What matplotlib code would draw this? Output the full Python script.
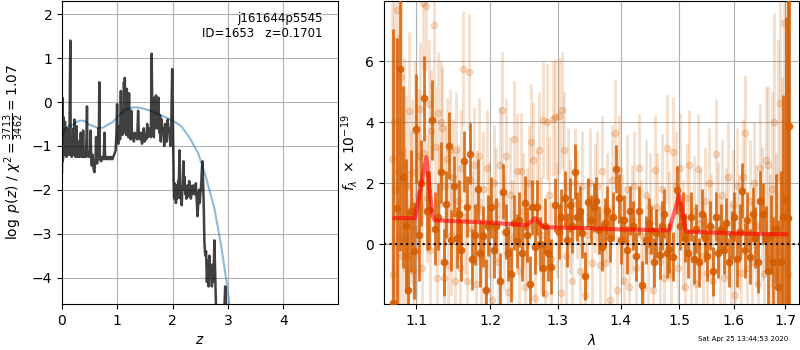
import matplotlib
matplotlib.use('Agg')
import matplotlib.pyplot as plt
from matplotlib.ticker import FixedLocator, NullLocator, NullFormatter

# ---- p(z) panel data ----
z_pz = [0.000, 0.006, 0.014, 0.022, 0.030, 0.038, 0.046, 0.054, 0.062, 0.072,
        0.082, 0.092, 0.102, 0.112, 0.122, 0.132, 0.142, 0.150, 0.158, 0.168,
        0.176, 0.186, 0.196, 0.206, 0.214, 0.224, 0.234, 0.244, 0.254, 0.264,
        0.274, 0.284, 0.296, 0.306, 0.318, 0.330, 0.340, 0.350, 0.360, 0.372,
        0.382, 0.392, 0.402, 0.412, 0.422, 0.432, 0.442, 0.452, 0.460, 0.470,
        0.482, 0.494, 0.506, 0.518, 0.528, 0.540, 0.552, 0.562, 0.574, 0.586,
        0.596, 0.606, 0.616, 0.626, 0.636, 0.646, 0.656, 0.664, 0.674, 0.684,
        0.694, 0.706, 0.720, 0.732, 0.744, 0.756, 0.768, 0.780, 0.792, 0.806,
        0.820, 0.834, 0.848, 0.860, 0.874, 0.888, 0.900, 0.914, 0.928, 0.942,
        0.956, 0.970, 0.984, 0.996, 1.006, 1.020, 1.035, 1.050, 1.064, 1.076,
        1.090, 1.100, 1.110, 1.120, 1.128, 1.136, 1.146, 1.160, 1.172, 1.184,
        1.200, 1.212, 1.224, 1.240, 1.254, 1.266, 1.284, 1.300, 1.314, 1.330,
        1.346, 1.360, 1.376, 1.390, 1.410, 1.428, 1.446, 1.462, 1.478, 1.494,
        1.510, 1.526, 1.540, 1.556, 1.572, 1.590, 1.606, 1.622, 1.634, 1.646,
        1.660, 1.674, 1.686, 1.700, 1.714, 1.728, 1.744, 1.758, 1.772, 1.786,
        1.800, 1.816, 1.832, 1.848, 1.864, 1.880, 1.896, 1.912, 1.928, 1.944,
        1.960, 1.976, 1.992, 2.004, 2.012, 2.020, 2.028, 2.036,
        2.044, 2.052, 2.060, 2.068, 2.076, 2.084, 2.092, 2.100, 2.110, 2.125,
        2.135, 2.145, 2.155, 2.165, 2.175, 2.185, 2.195, 2.205, 2.215, 2.230,
        2.240, 2.250, 2.260, 2.270, 2.280, 2.290, 2.300, 2.310, 2.320, 2.330,
        2.340, 2.350, 2.360, 2.370, 2.380, 2.390, 2.400, 2.410, 2.420, 2.430,
        2.440, 2.450, 2.460, 2.470, 2.480, 2.490, 2.500, 2.510, 2.520, 2.530,
        2.540, 2.560, 2.575, 2.590, 2.605, 2.620, 2.635, 2.650, 2.665, 2.680,
        2.695, 2.710, 2.725, 2.740, 2.755, 2.770, 2.785, 2.800, 2.850, 2.900,
        2.935, 2.950, 2.960, 2.975, 3.000]
logpz = [-1.60, 0.10, -1.35, -1.25, -0.35, -1.20, -1.15, -0.45, -1.20, -1.15,
         -1.25, -0.60, -1.20, -1.20, -1.10, -1.20, 0.20, 1.40, -1.15, -0.85,
         -1.25, -1.20, -1.20, -0.60, -1.20, -0.40, -1.20, -1.25, -1.15, -0.55,
         -1.20, -1.25, -0.90, -1.20, -1.25, -1.20, -0.70, -1.20, -1.25, -1.20,
         -0.65, -1.25, -1.20, -1.25, -1.20, -1.25, -0.85, -0.10, -1.20, -1.15,
         -1.25, -1.20, -1.20, -0.65, -1.30, -1.45, -1.20, -1.35, -1.55, -1.60,
         -1.40, -1.30, -0.80, -1.35, -1.40, -1.30, -0.60, -1.25, 0.45, -1.30,
         -1.30, -1.35, -1.25, -1.30, -1.30, -1.20, -0.70, -1.30, -1.25, -1.30,
         -1.25, -1.30, -1.30, -1.25, -1.30, -1.25, -1.30, -1.30, -1.25, -1.20,
         -1.15, -1.10, -0.70, -0.05, -0.90, -0.95, -0.55, -0.85, 0.25, -0.65,
         -0.75, -0.20, -0.70, 0.45, -0.30, 0.55, -0.60, -0.75, 0.30, -0.70,
         -0.80, 0.20, -0.75, -0.85, -0.20, -0.80, -0.75, -0.90, -0.70, -0.80,
         -0.75, -0.85, -0.20, -0.80, -0.85, -0.70, -0.95, -0.85, -0.60, -0.90,
         -0.80, -0.85, -0.50, -0.80, -0.70, -0.60, -0.80, 1.10, -0.50, 0.00,
         -0.80, 0.10, -0.60, 0.15, -0.40, -0.60, 0.10, -0.70, -0.30, -0.90,
         -0.40, -0.70, -0.60, -1.00, -0.50, -0.70, -0.90, -0.40, -0.70, -0.60,
         -1.00, -0.50, 0.75, -0.40, -1.10, -1.90, -2.20, -1.85,
         -2.10, -1.90, -2.30, -2.05, -1.90, -2.20, -2.10, -1.80, -2.00, -1.10,
         -1.80, -2.20, -2.00, -2.35, -2.00, -1.90, -1.35, -2.00, -1.70, -2.10,
         -1.95, -2.20, -2.00, -1.90, -2.15, -2.05, -1.80, -2.10, -1.90, -2.20,
         -1.95, -2.00, -2.10, -1.90, -2.05, -2.00, -2.10, -2.00, -1.85, -2.10,
         -2.30, -2.60, -2.40, -2.10, -2.00, -2.30, -2.10, -2.00, -1.80, -1.50,
         -1.35, -2.20, -3.20, -3.50, -3.40, -4.10, -3.60, -4.20, -3.50, -3.90,
         -3.80, -4.20, -3.70, -4.10, -3.15, -3.90, -4.70, -5.50, -6.50, -6.00,
         -4.70, -4.20, -4.35, -5.20, -6.50]

z_prior = [0.00, 0.04, 0.08, 0.12, 0.17, 0.22, 0.28, 0.34, 0.40, 0.45,
           0.50, 0.57, 0.66, 0.75, 0.82, 0.90, 0.98, 1.05, 1.12, 1.20,
           1.30, 1.40, 1.50, 1.60, 1.70, 1.80, 1.90, 1.97, 2.10, 2.16,
           2.30, 2.46, 2.60, 2.76, 2.88, 2.97, 3.02, 3.06]
logprior = [-0.85, -0.65, -0.58, -0.55, -0.53, -0.50, -0.44, -0.42, -0.43, -0.47,
            -0.52, -0.55, -0.60, -0.58, -0.52, -0.47, -0.38, -0.28, -0.20, -0.15,
            -0.12, -0.13, -0.16, -0.20, -0.26, -0.31, -0.36, -0.41, -0.50, -0.56,
            -0.80, -1.16, -1.70, -2.45, -3.29, -4.05, -4.55, -5.00]

# ---- spectrum panel data ----
# binned spectrum (dark points)
wave_bin = [1.0705, 1.0745, 1.0786, 1.0825, 1.0860, 1.0895, 1.0930, 1.0965, 1.0995, 1.1030,
            1.1065, 1.1100, 1.1138, 1.1170, 1.1210, 1.1245, 1.1280, 1.1325, 1.1360, 1.1395,
            1.1430, 1.1465, 1.1500, 1.1535, 1.1570, 1.1600, 1.1633, 1.1670, 1.1718, 1.1750,
            1.1790, 1.1830, 1.1860, 1.1900, 1.1940, 1.1975, 1.2010, 1.2050, 1.2090, 1.2140,
            1.2187, 1.2220, 1.2260, 1.2300, 1.2340, 1.2380, 1.2420, 1.2460, 1.2500, 1.2540,
            1.2575, 1.2610, 1.2650, 1.2690, 1.2730, 1.2770, 1.2810, 1.2850, 1.2890, 1.2958,
            1.3010, 1.3050, 1.3110, 1.3140, 1.3180, 1.3220, 1.3264, 1.3300, 1.3340, 1.3380,
            1.3420, 1.3470, 1.3520, 1.3560, 1.3600, 1.3650, 1.3700, 1.3740, 1.3780, 1.3830,
            1.3870, 1.3930, 1.3970, 1.4005, 1.4050, 1.4100, 1.4150, 1.4200, 1.4250, 1.4310,
            1.4356, 1.4424, 1.4470, 1.4510, 1.4560, 1.4596, 1.4665, 1.4700, 1.4740, 1.4790,
            1.4828, 1.4898, 1.4960, 1.5010, 1.5060, 1.5110, 1.5160, 1.5210, 1.5260, 1.5310,
            1.5360, 1.5410, 1.5460, 1.5510, 1.5560, 1.5610, 1.5660, 1.5710, 1.5760, 1.5810,
            1.5860, 1.5910, 1.5960, 1.6010, 1.6060, 1.6110, 1.6160, 1.6210, 1.6260, 1.6310,
            1.6360, 1.6410, 1.6460, 1.6510, 1.6560, 1.6610, 1.6660, 1.6710, 1.6760, 1.6810,
            1.6860, 1.6910, 1.6960, 1.7010, 1.7060, 1.7085]
flux_bin = [-1.95, 1.18, 5.76, 2.20, 0.60, -1.50, 1.09, -0.22, 3.79, 0.30,
            2.00, 4.78, 1.09, 1.11, 4.07, 0.50, 0.90, 2.35, -0.60, 1.30,
            3.23, 0.13, 1.90, 0.20, 1.00, -0.20, 2.72, 1.22, 2.97, -0.50,
            0.30, 1.80, -0.30, 0.25, -1.50, 0.60, 1.20, -0.20, 0.60, -1.20,
            1.72, 0.40, -0.30, -1.00, 0.70, 0.10, 0.80, -0.30, 1.35, 0.30,
            -1.30, 1.20, -0.10, 1.20, 0.00, -0.80, 0.60, -0.30, -0.74, 1.28,
            0.40, 0.90, 1.50, 0.13, 1.28, 0.60, 2.37, 0.90, 1.10, 0.35,
            -1.05, 1.37, 0.80, 1.20, 1.40, 0.46, -0.10, 0.70, 1.10, 0.20,
            0.90, 2.46, 1.50, 0.13, 0.80, -0.20, 1.10, 0.60, -0.40, 1.10,
            -1.35, 0.13, 0.70, 0.46, -0.60, 0.35, -0.36, 0.60, 1.00, -0.30,
            -0.15, -0.42, 1.77, 0.60, 0.90, 0.20, -0.30, 0.90, -0.50, 0.50,
            -0.60, 1.00, 0.20, -0.40, 0.60, -0.90, 0.90, -0.30, 0.50, -0.20,
            0.70, -0.60, 0.30, 0.90, -0.50, 0.40, 1.75, -0.20, 0.80, -0.42,
            0.97, 0.20, -0.60, 1.40, 1.00, 0.15, -0.90, 0.30, -0.60, 0.50,
            -1.40, -0.60, 0.90, 1.45, 0.85, 3.87]
err_bin = [9.0, 5.6, 6.0, 3.0, 2.2, 2.6, 2.0, 1.6, 1.8, 1.5,
           1.4, 1.4, 1.3, 1.3, 1.3, 1.2, 1.1, 1.0, 1.1, 1.1,
           1.1, 1.0, 1.0, 1.0, 1.1, 1.0, 1.0, 1.0, 1.0, 1.0,
           1.0, 1.0, 1.1, 1.0, 1.0, 1.0, 1.0, 0.9, 0.9, 0.9,
           0.9, 0.9, 0.9, 0.9, 0.9, 0.9, 0.9, 0.9, 0.9, 0.9,
           0.9, 0.9, 0.9, 0.9, 0.9, 0.9, 0.9, 0.9, 0.9, 0.9,
           0.9, 0.9, 0.9, 0.9, 0.9, 0.9, 0.9, 0.8, 0.8, 0.8,
           0.8, 0.8, 0.8, 0.8, 0.8, 0.8, 0.8, 0.8, 0.8, 0.8,
           0.8, 0.8, 0.8, 0.8, 0.8, 0.8, 0.8, 0.8, 0.8, 0.8,
           0.8, 0.8, 0.8, 0.8, 0.8, 0.8, 0.8, 0.8, 0.8, 0.8,
           0.8, 0.8, 0.8, 0.8, 0.8, 0.8, 0.8, 0.8, 0.8, 0.8,
           0.8, 0.8, 0.8, 0.8, 0.8, 0.8, 0.8, 0.8, 0.8, 0.8,
           0.8, 0.8, 0.8, 0.8, 0.9, 0.9, 0.9, 0.9, 0.9, 0.9,
           0.9, 1.0, 1.0, 1.0, 1.0, 1.1, 1.2, 1.3, 1.5, 1.8,
           2.2, 3.0, 4.0, 6.0, 8.0, 12.0]

# unbinned spectrum (light points)
wave_raw = [1.0685, 1.0700, 1.0715, 1.0730, 1.0750, 1.0765, 1.0780, 1.0800, 1.0815, 1.0835,
            1.0850, 1.0870, 1.0890, 1.0910, 1.0925, 1.0945, 1.0960, 1.0980, 1.1000, 1.1015,
            1.1035, 1.1050, 1.1070, 1.1085, 1.1100, 1.1120, 1.1140, 1.1160, 1.1175, 1.1195,
            1.1230, 1.1250, 1.1265, 1.1285, 1.1300, 1.1320, 1.1340, 1.1360, 1.1380, 1.1400,
            1.1420, 1.1440, 1.1460, 1.1485, 1.1510, 1.1530, 1.1555, 1.1580, 1.1600, 1.1625,
            1.1650, 1.1675, 1.1700, 1.1720, 1.1745, 1.1770, 1.1795, 1.1820, 1.1850, 1.1875,
            1.1900, 1.1930, 1.1960, 1.1990, 1.2020, 1.2050, 1.2080, 1.2110, 1.2140, 1.2170,
            1.2200, 1.2230, 1.2260, 1.2290, 1.2320, 1.2350, 1.2380, 1.2410, 1.2440, 1.2470,
            1.2500, 1.2530, 1.2560, 1.2590, 1.2620, 1.2650, 1.2680, 1.2710, 1.2740, 1.2770,
            1.2800, 1.2830, 1.2860, 1.2890, 1.2920, 1.2950, 1.2980, 1.3010, 1.3040, 1.3070,
            1.3100, 1.3130, 1.3160, 1.3190, 1.3220, 1.3260, 1.3300, 1.3340, 1.3380, 1.3420,
            1.3460, 1.3500, 1.3540, 1.3580, 1.3620, 1.3660, 1.3700, 1.3740, 1.3780, 1.3820,
            1.3860, 1.3900, 1.3940, 1.3980, 1.4020, 1.4060, 1.4100, 1.4140, 1.4180, 1.4220,
            1.4260, 1.4300, 1.4340, 1.4380, 1.4420, 1.4460, 1.4500, 1.4540, 1.4580, 1.4620,
            1.4660, 1.4700, 1.4740, 1.4780, 1.4820, 1.4860, 1.4900, 1.4940, 1.4980, 1.5020,
            1.5060, 1.5100, 1.5140, 1.5180, 1.5220, 1.5260, 1.5300, 1.5340, 1.5380, 1.5420,
            1.5460, 1.5500, 1.5540, 1.5580, 1.5620, 1.5660, 1.5700, 1.5740, 1.5780, 1.5820,
            1.5860, 1.5900, 1.5940, 1.5980, 1.6020, 1.6060, 1.6100, 1.6140, 1.6180, 1.6220,
            1.6260, 1.6300, 1.6340, 1.6380, 1.6420, 1.6460, 1.6500, 1.6540, 1.6580, 1.6620,
            1.6660, 1.6700, 1.6740, 1.6780, 1.6820, 1.6860, 1.6900, 1.6940, 1.6980, 1.7020,
            1.7060]
flux_raw = [2.8, -1.0, 4.0, 1.8, 7.7, 2.4, 0.2, 5.5, -0.4, 2.6,
            0.2, 1.9, -0.4, 4.36, 1.2, 2.37, -0.9, 3.7, 0.5, 1.6,
            2.9, 4.45, -0.8, 7.9, 3.0, 7.8, 1.5, 4.6, -0.2, 3.7,
            7.2, 3.2, -1.1, 4.3, 1.3, 4.0, 3.8, -1.1, 1.9, 2.8,
            -0.7, 3.1, 0.3, 2.2, -1.2, 3.1, 1.4, -0.8, 2.5, 5.76,
            0.9, -1.2, 5.65, 2.1, 0.5, 2.6, -1.3, 1.2, 2.9, -0.4,
            1.8, -1.5, 2.5, 0.8, -1.84, 2.0, 1.3, -0.6, 2.6, 4.39,
            0.4, 2.9, -1.56, 1.6, 0.2, 3.46, 2.4, -0.9, 2.4, 1.1,
            -1.4, 0.6, 2.0, 3.35, 2.75, -1.78, 1.2, 3.1, 0.3, 4.07,
            -1.65, 4.0, 1.6, -0.5, 4.12, 4.17, 0.8, 4.2, -1.62, 4.39,
            3.08, -0.4, 1.9, 0.9, -1.2, 2.0, 1.3, -0.9, 1.9, -1.67,
            0.3, 2.0, -0.63, 1.5, 1.9, -0.7, 2.4, -0.63, 1.2, -1.84,
            2.1, 3.63, -1.5, 2.43, 0.5, -1.2, 1.8, -1.4, 0.8, 1.9,
            -0.8, 2.48, 0.3, -1.45, 1.6, -0.2, 1.2, -1.5, 2.43, 1.2,
            -0.6, 1.8, -1.13, 3.14, 0.6, -1.0, 3.03, 1.9, -0.8, 2.5,
            0.3, -1.4, 1.5, 2.6, -0.5, 1.1, -1.3, 2.46, 0.7, -0.4,
            1.4, -0.96, 2.0, 0.5, -1.2, 2.97, 0.9, -0.2, 1.6, -1.1,
            0.7, 2.2, -0.5, 1.3, -1.67, 1.9, 0.4, -0.96, 2.2, 3.66,
            -0.8, 1.4, -0.6, 2.0, 0.6, -1.3, 2.5, 1.0, -1.0, 2.75,
            2.6, -0.5, 1.8, 4.0, -1.0, 2.2, 4.63, -0.5, 7.25, 1.5,
            -1.0]
err_raw = [6.0, 5.0, 6.0, 5.0, 6.0, 4.5, 4.0, 4.0, 3.5, 3.5,
           3.0, 3.0, 2.8, 2.6, 2.5, 2.4, 2.4, 2.3, 2.3, 2.2,
           2.2, 2.2, 2.2, 2.2, 2.1, 2.1, 2.1, 2.1, 2.0, 2.0,
           2.0, 2.0, 2.0, 2.0, 2.0, 2.0, 2.0, 2.0, 2.0, 2.0,
           2.0, 2.0, 2.0, 1.9, 1.9, 1.9, 1.9, 1.9, 1.9, 1.9,
           1.9, 1.9, 1.9, 1.9, 1.9, 1.9, 1.9, 1.9, 1.9, 1.9,
           1.9, 1.9, 1.9, 1.9, 1.9, 1.9, 1.9, 1.9, 1.9, 1.9,
           1.9, 1.9, 1.9, 1.9, 1.9, 1.9, 1.9, 1.9, 1.9, 1.9,
           1.9, 1.9, 1.9, 1.9, 1.9, 1.9, 1.9, 1.9, 1.9, 1.9,
           1.9, 1.9, 1.9, 1.9, 1.9, 1.9, 1.9, 1.9, 1.9, 1.9,
           1.9, 1.9, 1.9, 1.9, 1.9, 1.8, 1.8, 1.8, 1.8, 1.8,
           1.8, 1.8, 1.8, 1.8, 1.8, 1.8, 1.8, 1.8, 1.8, 1.8,
           1.8, 1.8, 1.8, 1.8, 1.8, 1.8, 1.8, 1.8, 1.8, 1.8,
           1.8, 1.8, 1.8, 1.8, 1.8, 1.8, 1.8, 1.8, 1.8, 1.8,
           1.8, 1.8, 1.8, 1.8, 1.8, 1.8, 1.8, 1.8, 1.8, 1.8,
           1.8, 1.8, 1.8, 1.8, 1.8, 1.8, 1.8, 1.8, 1.8, 1.8,
           1.8, 1.8, 1.8, 1.8, 1.8, 1.8, 1.8, 1.8, 1.8, 1.8,
           1.8, 1.8, 1.8, 1.8, 1.8, 1.9, 1.9, 1.9, 1.9, 1.9,
           1.9, 2.0, 2.0, 2.0, 2.0, 2.1, 2.1, 2.2, 2.2, 2.4,
           2.6, 2.8, 3.2, 3.6, 4.0, 4.5, 5.0, 6.0, 7.0, 8.0,
           9.0]

# best-fit model
wave_model = [1.0720, 1.0980, 1.1130, 1.1210, 1.1240, 1.1600, 1.2000, 1.2530, 1.2654, 1.2770,
              1.2800, 1.3500, 1.4000, 1.4822, 1.5001, 1.5112, 1.5140, 1.5500, 1.6000, 1.6500,
              1.7020]
flux_model = [0.85, 0.85, 2.85, 0.95, 0.78, 0.74, 0.70, 0.62, 0.85, 0.57,
              0.55, 0.52, 0.48, 0.45, 1.60, 0.46, 0.40, 0.38, 0.35, 0.33,
              0.32]

wave_ticks = [1.1, 1.2, 1.3, 1.4, 1.5, 1.6, 1.7]
g141_color = '#d55e00'

fig = plt.figure(figsize=(8, 3.5), dpi=100)

# p(z) panel
ax1 = fig.add_axes([0.0775, 0.1314, 0.345, 0.8657])
ax1.plot(z_prior, logprior, color='#1f77b4', alpha=0.5, linewidth=1.5)
ax1.plot(z_pz, logpz, color='k', alpha=0.75, linewidth=1.8)
ax1.set_xlim(0, 4.99)
ax1.set_ylim(-4.6, 2.3)
ax1.set_xticks([0, 1, 2, 3, 4])
ax1.grid(True)
ax1.set_axisbelow(True)
ax1.set_xlabel('$z$')
ax1.set_ylabel(r'$\log\ p(z)$ / $\chi^2=\frac{3713}{3462}=1.07$')
ax1.text(0.945, 0.965, 'j161644p5545\nID=1653   z=0.1701', transform=ax1.transAxes,
         ha='right', va='top', multialignment='right', fontsize=8.5)

# spectrum panel
ax2 = fig.add_axes([0.48, 0.1314, 0.51875, 0.8657])
ax2.errorbar(wave_raw, flux_raw, yerr=err_raw, fmt='o', color=g141_color, alpha=0.2,
             markersize=4.5, linewidth=2, capsize=0, zorder=2)
ax2.errorbar(wave_bin, flux_bin, yerr=err_bin, fmt='o', color=g141_color, alpha=0.85,
             markersize=4.5, linewidth=2, capsize=0, zorder=3)
ax2.plot(wave_model, flux_model, color='r', alpha=0.6, linewidth=3, zorder=4)
ax2.axhline(0, color='k', linestyle=':', linewidth=1.5, zorder=5)

ax2.set_xscale('log')
ax2.set_xlim(1.0587, 1.728)
ax2.set_ylim(-1.97, 7.98)
ax2.xaxis.set_major_locator(FixedLocator(wave_ticks))
ax2.set_xticklabels([str(t) for t in wave_ticks])
ax2.xaxis.set_minor_locator(NullLocator())
ax2.xaxis.set_minor_formatter(NullFormatter())
ax2.set_yticks([0, 2, 4, 6])
ax2.grid(True)
ax2.set_axisbelow(True)
ax2.set_xlabel(r'$\lambda$')
ax2.set_ylabel(r'$f_\lambda\ \times\ 10^{-19}$')

fig.text(0.985, 0.022, 'Sat Apr 25 13:44:53 2020', ha='right', va='bottom', fontsize=5)

plt.savefig('out.png', dpi=100)
